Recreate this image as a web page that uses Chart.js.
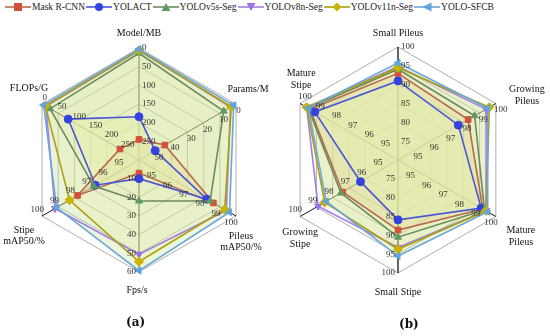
<!DOCTYPE html>
<html>
<head>
<meta charset="utf-8">
<script src="https://cdn.jsdelivr.net/npm/chart.js@4.4.1/dist/chart.umd.min.js"></script>
<style>
  body { margin: 0; background: #fff; width: 550px; height: 336px; position: relative; overflow: hidden; }
  canvas { position: absolute; top: 0; }
  #legend { position: absolute; left: 5px; top: 2px; display: flex; align-items: center;
            font: 9.5px "Liberation Serif", serif; color: #222; white-space: nowrap; }
  #legend span.item { display: flex; align-items: center; margin-right: 1px; }
  #legend svg { margin-right: 1px; }
  .tag { position: absolute; font: bold 12px "DejaVu Serif", serif; color: #111; }
</style>
</head>
<body>
<div id="legend"></div>
<canvas id="chartA" width="275" height="336" style="left:0"></canvas>
<canvas id="chartB" width="275" height="336" style="left:275px"></canvas>
<div class="tag" style="left:126px; top:315px">(a)</div>
<div class="tag" style="left:399px; top:317px">(b)</div>
<script>
// series
let models = ['Mask R-CNN', 'YOLACT', 'YOLOv5s-Seg', 'YOLOv8n-Seg', 'YOLOv11n-Seg', 'YOLO-SFCB'];
let lineColors = ['#b8694c', '#4a55d6', '#6c8a5e', '#a27fe0', '#aaa010', '#6ea6d8'];
let markColors = ['#d2503a', '#3443e0', '#5f9a62', '#9d70e6', '#c9b300', '#5ea4de'];
let fillColors = ['rgba(250,185,130,0.35)', 'rgba(252,250,200,0.6)', 'rgba(210,230,160,0.12)',
                  'rgba(215,205,245,0.1)', 'rgba(245,240,130,0.22)', 'rgba(195,228,150,0.32)'];
let markers = ['rect', 'circle', 'triangle', 'triangle', 'rectRot', 'triangle'];
let markTurn = [0, 0, 0, 180, 0, 270];

// chart (a): performance vs cost
let axesA = [['Model/MB'], ['Params/M'], ['Pileus', 'mAP50/%'], ['Fps/s'], ['Stipe', 'mAP50/%'], ['FLOPs/G']];
let outerA = [0, 0, 100, 60, 100, 0];
let centerA = [300, 60, 94, 0, 94, 300];
let ticksA = [
  ['0', '50', '100', '150', '200', '250'],
  ['0', '10', '20', '30', '40', '50'],
  ['100', '99', '98', '97', '96', '95'],
  ['60', '50', '40', '30', '20', '10'],
  ['100', '99', '98', '97', '96', '95'],
  ['0', '50', '100', '150', '200', '250']
];
let valuesA = [
  [245, 44, 98.6, 7, 97.8, 241],
  [184, 50, 98.2, 10, 96.7, 81],
  [14, 7.6, 98.4, 22, 96.8, 25],
  [6.8, 3.4, 99.4, 50.5, 99.2, 12],
  [6, 2.9, 99.3, 54.5, 98.3, 10.4],
  [3, 1.4, 99.6, 59.3, 99.1, 5]
];

// chart (b): mAP50 per growth stage
let axesB = [['Small Pileus'], ['Growing', 'Pileus'], ['Mature', 'Pileus'], ['Small Stipe'], ['Growing', 'Stipe'], ['Mature', 'Stipe']];
let outerB = [100, 100, 100, 100, 100, 100];
let centerB = [70, 94, 94, 70, 94, 94];
let ticksB = [
  ['100', '95', '90', '85', '80', '75'],
  ['100', '99', '98', '97', '96', '95'],
  ['100', '99', '98', '97', '96', '95'],
  ['100', '95', '90', '85', '80', '75'],
  ['100', '99', '98', '97', '96', '95'],
  ['100', '99', '98', '97', '96', '95']
];
let valuesB = [
  [93.0, 98.3, 99.2, 88.6, 97.4, 99.4],
  [91.0, 97.7, 99.1, 85.9, 96.3, 99.1],
  [94.1, 98.7, 99.3, 90.5, 97.5, 99.5],
  [94.8, 99.4, 99.4, 93.2, 98.9, 99.6],
  [94.5, 99.6, 99.4, 93.7, 98.5, 99.6],
  [95.8, 99.5, 99.5, 95.5, 98.4, 99.5]
];

const RINGS = 6;

// each axis has its own range, map it onto rings 0..6
function toRings(vals, outer, center) {
  return vals.map((v, i) => (v - center[i]) / (outer[i] - center[i]) * RINGS);
}

// tick labels along the spokes and axis names
const axisText = {
  id: 'axisText',
  afterDatasetsDraw(chart, args, opts) {
    const s = chart.scales.r;
    const ctx = chart.ctx;
    ctx.save();
    ctx.textAlign = 'center';
    ctx.textBaseline = 'middle';
    ctx.font = '9px "Liberation Serif", serif';
    ctx.fillStyle = '#333';
    opts.ticks.forEach((labels, i) => {
      labels.forEach((t, j) => {
        const p = s.getPointPosition(i, s.getDistanceFromCenterForValue(RINGS - j));
        const px = -Math.sin(p.angle), py = Math.cos(p.angle);
        const w = ctx.measureText(t).width;
        ctx.fillText(t, p.x + px * (3 + w / 2), p.y + py * 7.5);
      });
    });
    ctx.font = '10px "Liberation Serif", serif';
    ctx.fillStyle = '#111';
    opts.names.forEach((lines, i) => {
      const p = s.getPointPosition(i, s.drawingArea);
      const off = opts.offsets[i];
      lines.forEach((ln, k) => ctx.fillText(ln, p.x + off[0], p.y + off[1] + k * 11.5));
    });
    ctx.restore();
  }
};

function makeRadar(id, axes, values, outer, center, ticks, pad, offsets, spokeColors) {
  return new Chart(document.getElementById(id), {
    type: 'radar',
    data: {
      labels: axes.map(a => a.join(' ')),
      datasets: models.map((m, k) => ({
        label: m,
        data: toRings(values[k], outer, center),
        order: models.length - k, // first model drawn first, SFCB on top
        borderColor: lineColors[k],
        backgroundColor: fillColors[k],
        fill: true,
        borderWidth: 1.6,
        pointStyle: markers[k],
        pointRotation: markTurn[k],
        pointRadius: k === 4 ? 4.6 : 4,
        pointBackgroundColor: markColors[k],
        pointBorderColor: markColors[k],
        pointBorderWidth: 1
      }))
    },
    options: {
      responsive: false,
      animation: false,
      layout: { padding: pad },
      plugins: {
        legend: { display: false },
        tooltip: { enabled: false },
        filler: { drawTime: 'beforeDatasetsDraw' }, // all fills under all lines
        axisText: { names: axes, ticks: ticks, offsets: offsets }
      },
      scales: {
        r: {
          min: 0,
          max: RINGS,
          ticks: { display: false, stepSize: 1 },
          pointLabels: { display: false },
          grid: { color: '#9a9a9a', lineWidth: 0.8 },
          angleLines: { color: (c) => spokeColors[c.index], lineWidth: (c) => c.index % 3 === 0 ? 1.3 : 1 }
        }
      }
    },
    plugins: [axisText]
  });
}

makeRadar('chartA', axesA, valuesA, outerA, centerA, ticksA,
  { left: 27, right: 24, top: 48, bottom: 64 },
  [[0, -15], [12, -15], [5, 20], [-2, 18], [-18, 14], [-13, -16]],
  ['#4d5545', '#111', '#111', '#4d5545', '#111', '#111']);

makeRadar('chartB', axesB, valuesB, outerB, centerB, ticksB,
  { left: 10, right: 39, top: 47, bottom: 63 },
  [[0, -14], [31, -14], [25, 14], [0, 19], [0, 16], [1, -30]],
  ['#111', '#111', '#111', '#111', '#111', '#111']);

// legend: line with marker, then name
function markerSvg(k) {
  const c = markColors[k];
  const shapes = [
    `<rect x="9" y="1" width="8" height="8" fill="${c}"/>`,
    `<circle cx="13" cy="5" r="4" fill="${c}"/>`,
    `<polygon points="13,1 17.5,9 8.5,9" fill="${c}"/>`,
    `<polygon points="13,9 17.5,1 8.5,1" fill="${c}"/>`,
    `<polygon points="13,0.5 17.5,5 13,9.5 8.5,5" fill="${c}"/>`,
    `<polygon points="8.5,5 17.5,0.5 17.5,9.5" fill="${c}"/>`
  ];
  return `<svg width="26" height="10"><line x1="0" y1="5" x2="26" y2="5" stroke="${lineColors[k]}" stroke-width="1.6"/>${shapes[k]}</svg>`;
}
document.getElementById('legend').innerHTML = models.map((m, k) =>
  `<span class="item">${markerSvg(k)}${m}</span>`).join('');
</script>
</body>
</html>
